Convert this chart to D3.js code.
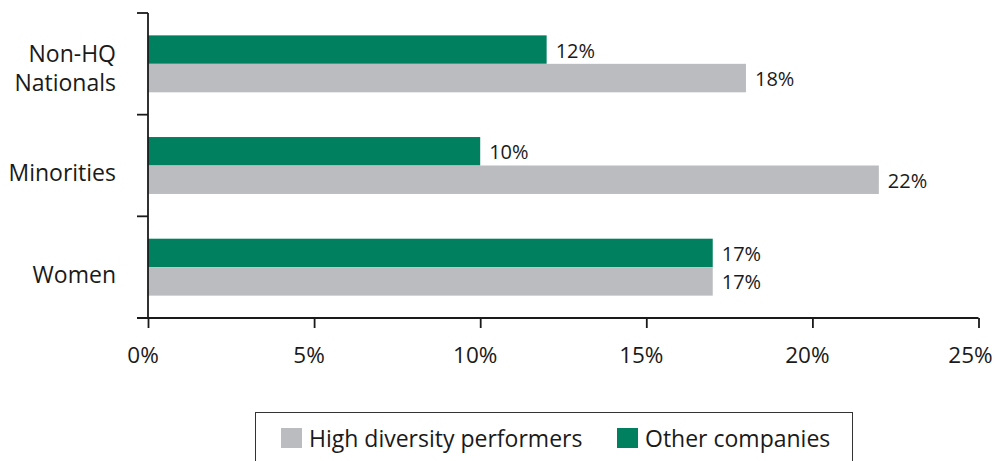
<!DOCTYPE html>
<html><head><meta charset="utf-8">
<script src="https://cdn.jsdelivr.net/npm/d3@7"></script>
<style>body{margin:0;background:#fff}svg{display:block}text{font-family:"Open Sans",sans-serif;fill:#1a1a1a}</style>
</head><body>
<svg id="c" width="995" height="461"></svg>
<script>
const categories = ["Non-HQ Nationals", "Minorities", "Women"];
const categoryLines = [["Non-HQ", "Nationals"], ["Minorities"], ["Women"]];
const otherCompanies = [12, 10, 17];
const highDiversity = [18, 22, 17];
const xTicks = [0, 5, 10, 15, 20, 25];
const seriesNames = ["High diversity performers", "Other companies"];
const colors = {high: "#bbbcbf", other: "#00805f"};

const svg = d3.select("#c");
const x = d3.scaleLinear().domain([0, 25]).range([148, 978.5]);
const y = d3.scaleBand().domain(categories).range([13, 318]).paddingInner(0.44).paddingOuter(0.22);
const sub = d3.scaleBand().domain(["other", "high"]).range([0, y.bandwidth()]);

const g = svg.append("g");
categories.forEach((c, i) => {
  const rows = [{k: "other", v: otherCompanies[i]}, {k: "high", v: highDiversity[i]}];
  rows.forEach(r => {
    g.append("rect").attr("x", x(0)).attr("y", y(c) + sub(r.k))
      .attr("width", x(r.v) - x(0)).attr("height", sub.bandwidth())
      .attr("fill", colors[r.k]);
    g.append("text").attr("x", x(r.v) + 9).attr("y", y(c) + sub(r.k) + sub.bandwidth() / 2 + 8)
      .attr("font-size", 20).text(r.v + "%");
  });
});

// y axis
const axisColor = "#1a1a1a";
svg.append("line").attr("x1", 148).attr("x2", 148).attr("y1", 13).attr("y2", 318).attr("stroke", axisColor).attr("stroke-width", 1.8);
const yEdges = [y.range()[0], ...categories.slice(1).map(c => y(c) - y.step() * y.paddingInner() / 2), y.range()[1]];
yEdges.forEach(v => svg.append("line").attr("x1", 137).attr("x2", 148).attr("y1", v).attr("y2", v).attr("stroke", axisColor).attr("stroke-width", 1.8));
categories.forEach((c, i) => {
  const lines = categoryLines[i];
  const cy = y(c) + y.bandwidth() / 2;
  const base = lines.length > 1 ? cy - 2 : cy + 15.5;
  lines.forEach((l, j) => {
    svg.append("text").attr("x", 116).attr("y", base + j * 29)
      .attr("text-anchor", "end").attr("font-size", 23).text(l);
  });
});

// x axis
const xAxis = svg.append("g").attr("transform", "translate(0,318)")
  .call(d3.axisBottom(x).tickValues(xTicks).tickSize(10).tickPadding(14).tickFormat(d => d + "%"));
xAxis.select(".domain").attr("stroke", axisColor).attr("stroke-width", 1.8).attr("d", "M137,0H" + x(25));
xAxis.selectAll(".tick line").attr("stroke", axisColor).attr("stroke-width", 1.8);
xAxis.selectAll(".tick text").attr("font-size", 22.5).attr("fill", "#1a1a1a")
  .attr("dy", null).attr("y", 45).attr("x", d => d === 25 ? -8.5 : -5.5)
  .style("font-family", '"Open Sans",sans-serif');

// legend
svg.append("rect").attr("x", 255.5).attr("y", 412.5).attr("width", 597).attr("height", 60)
  .attr("fill", "none").attr("stroke", "#333").attr("stroke-width", 1);
const leg = [{n: seriesNames[0], c: colors.high, x: 281}, {n: seriesNames[1], c: colors.other, x: 617}];
leg.forEach(d => {
  svg.append("rect").attr("x", d.x).attr("y", 428).attr("width", 21).attr("height", 20).attr("fill", d.c);
  svg.append("text").attr("x", d.x + 28).attr("y", 447).attr("font-size", 23).text(d.n);
});
</script>
</body></html>
